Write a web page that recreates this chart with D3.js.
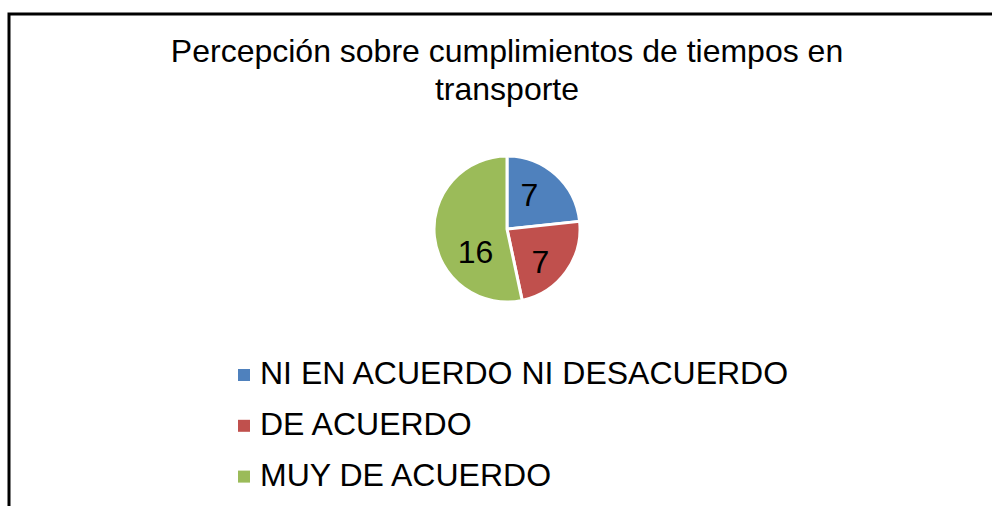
<!DOCTYPE html>
<html>
<head>
<meta charset="utf-8">
<script src="https://cdn.jsdelivr.net/npm/d3@7"></script>
<style>
  body { margin: 0; background: #fff; }
  svg { display: block; font-family: "Liberation Sans", Arial, sans-serif; }
</style>
</head>
<body>
<svg id="chart"></svg>
<script>
// chart data
const categories = ["NI EN ACUERDO NI DESACUERDO", "DE ACUERDO", "MUY DE ACUERDO"];
const values = [7, 7, 16];
const colors = ["#4f81bd", "#c0504d", "#9bbb59"];
const titleLines = ["Percepción sobre cumplimientos de tiempos en", "transporte"];

// small nudges from the slice centroid, like excel's "best fit" labels
const labelNudge = [[-7, -1.5], [-2, 7], [12, 18]];

const width = 992;
const height = 506;

const svg = d3.select("#chart")
    .attr("width", width)
    .attr("height", height);

// outer frame (runs off right and bottom)
svg.append("path")
    .attr("d", `M9,${height + 5} L9,14 L${width + 5},14`)
    .attr("fill", "none")
    .attr("stroke", "#000")
    .attr("stroke-width", 3);

// title
svg.append("text")
    .attr("x", 507)
    .attr("y", 62)
    .attr("text-anchor", "middle")
    .style("font-size", "32px")
    .selectAll("tspan")
    .data(titleLines)
    .enter().append("tspan")
    .attr("x", 507)
    .attr("dy", (d, i) => i === 0 ? 0 : 38)
    .text(d => d);

// pie
const cx = 507, cy = 229, r = 73;
const pie = d3.pie().sort(null).value(d => d);
const arcs = pie(values);
const arc = d3.arc().innerRadius(0).outerRadius(r);
const labelArc = d3.arc().innerRadius(r * 0.6).outerRadius(r * 0.6);

const g = svg.append("g").attr("transform", `translate(${cx},${cy})`);

g.selectAll("path.slice")
    .data(arcs)
    .enter().append("path")
    .attr("class", "slice")
    .attr("d", arc)
    .attr("fill", (d, i) => colors[i])
    .attr("stroke", "#fff")
    .attr("stroke-width", 3);

g.selectAll("text.lbl")
    .data(arcs)
    .enter().append("text")
    .attr("class", "lbl")
    .attr("x", (d, i) => labelArc.centroid(d)[0] + labelNudge[i][0])
    .attr("y", (d, i) => labelArc.centroid(d)[1] + labelNudge[i][1])
    .attr("text-anchor", "middle")
    .attr("dy", "0.36em")
    .style("font-size", "32px")
    .text(d => d.data);

// legend
const legend = svg.append("g").attr("transform", "translate(238,369)");
const rows = legend.selectAll("g")
    .data(categories)
    .enter().append("g")
    .attr("transform", (d, i) => `translate(0,${i * 50.8})`);

rows.append("rect")
    .attr("width", 12)
    .attr("height", 12)
    .attr("fill", (d, i) => colors[i]);

rows.append("text")
    .attr("x", 22)
    .attr("y", 15)
    .style("font-size", "32px")
    .text(d => d);
</script>
</body>
</html>
